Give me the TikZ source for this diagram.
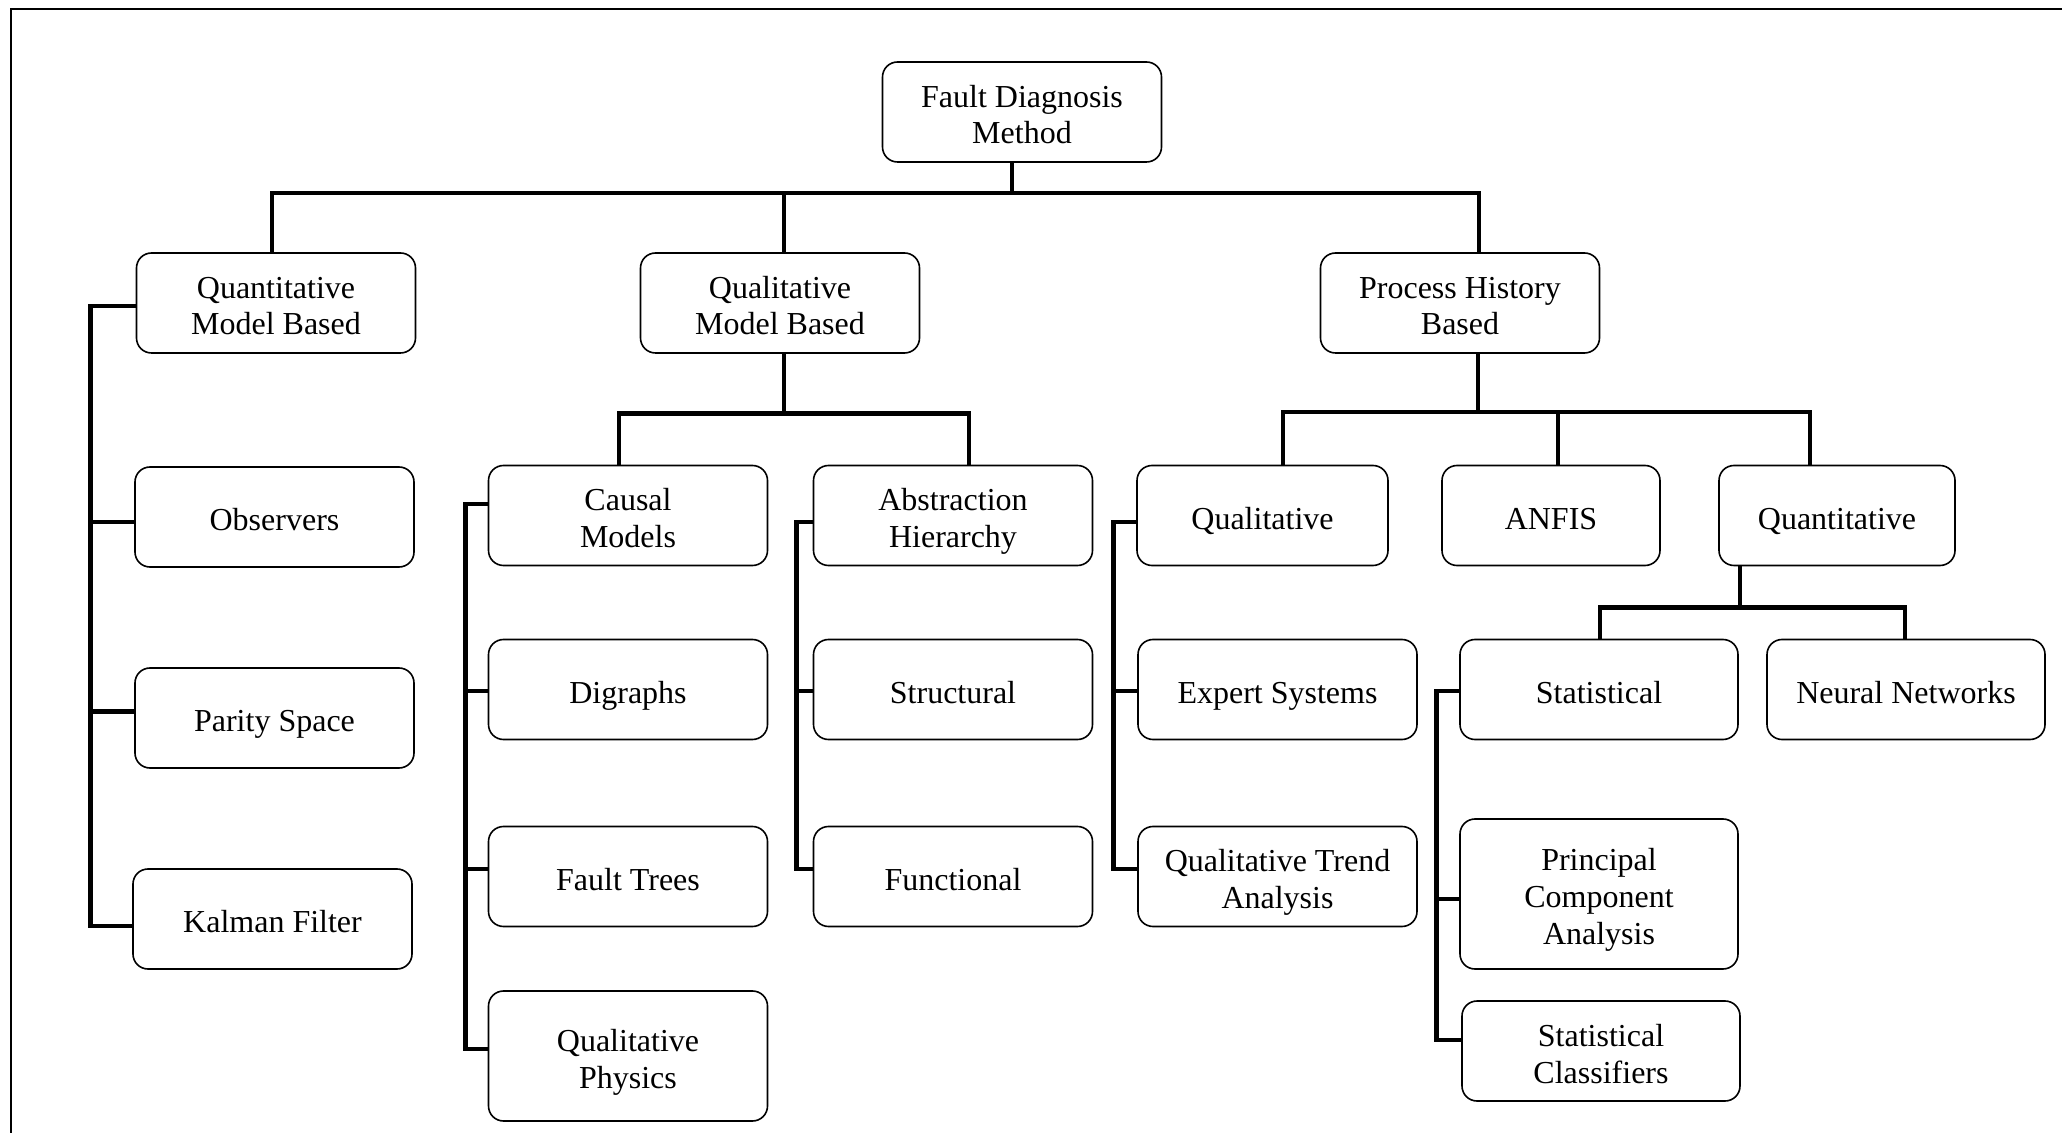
\documentclass[tikz,border=0pt]{standalone}
\usepackage{fontspec}
\setmainfont{Liberation Serif}
\usetikzlibrary{calc}
% line struts: \fl opens the first line of a label (taller above), \ls every further line
\newcommand\fl{\rule[-3.7pt]{0pt}{21pt}}
\newcommand\ls{\rule[-3.7pt]{0pt}{18.3pt}}
\begin{document}
\begin{tikzpicture}[x=0.5pt,y=-0.5pt,
  box/.style={draw, line width=0.8pt, rounded corners=7.5pt, align=center,
    inner sep=2pt, minimum width=139.5pt, minimum height=50pt,
    font=\fontsize{16}{18.4}\selectfont},
  link/.style={line width=2.3pt},
  bus/.style={line width=2.3pt, line cap=rect},
]
\useasboundingbox (0,0) rectangle (2062,1133);

% outer frame (top and left edges)
\draw[line width=1.3pt] (11,1140) -- (11,9) -- (2070,9);

% ---- nodes ----
\node[box] (root) at (1022,112) {\fl Fault Diagnosis\\\ls Method};

\node[box] (qmb)  at (276,303)  {\fl Quantitative\\\ls Model Based};
\node[box] (qlmb) at (780,303)  {\fl Qualitative\\\ls Model Based};
\node[box] (phb)  at (1460,303) {\fl Process History\\\ls Based};

\node[box] (obs) at (274.5,517) {\fl Observers};
\node[box] (par) at (274.5,718) {\fl Parity Space};
\node[box] (kal) at (272.5,919) {\fl Kalman Filter};

\node[box] (cau) at (628,515.5) {\fl Causal\\\ls Models};
\node[box] (abs) at (953,515.5) {\fl Abstraction\\\ls Hierarchy};
\node[box] (dig) at (628,689.5) {\fl Digraphs};
\node[box] (ftr) at (628,876.5) {\fl Fault Trees};
\node[box, minimum height=65pt] (qph) at (628,1056) {\fl Qualitative\\\ls Physics};
\node[box] (str) at (953,689.5) {\fl Structural};
\node[box] (fun) at (953,876.5) {\fl Functional};

\node[box, minimum width=125.5pt] (qal) at (1262.5,515.5) {\fl Qualitative};
\node[box, minimum width=109pt]   (anf) at (1551,515.5)   {\fl ANFIS};
\node[box, minimum width=118pt]   (qnt) at (1837,515.5)   {\fl Quantitative};
\node[box] (exp) at (1277.5,689.5) {\fl Expert Systems};
\node[box] (qta) at (1277.5,876.5) {\fl Qualitative Trend\\\ls Analysis};

\node[box, minimum width=139pt] (sta) at (1599,689.5) {\fl Statistical};
\node[box, minimum width=139pt] (nn)  at (1906,689.5) {\fl Neural Networks};
\node[box, minimum width=139pt, minimum height=75pt] (pca) at (1599,894)
  {\fl Principal\\\ls Component\\\ls Analysis};
\node[box, minimum width=139pt] (scl) at (1601,1051) {\fl Statistical\\\ls Classifiers};

% ---- tree connectors ----
% root to the three main families
\draw[link] ($(root.south)+(-10,0)$) -- ++(0,32);
\draw[bus]  ($(qmb.north)+(-4,-59)$) -- ($(phb.north)+(19,-59)$);
\draw[link] ($(qmb.north)+(-4,0)$)  -- ++(0,-59);
\draw[link] ($(qlmb.north)+(4,0)$)  -- ++(0,-59);
\draw[link] ($(phb.north)+(19,0)$)  -- ++(0,-59);

% qualitative model based
\draw[link] ($(qlmb.south)+(4,0)$) -- ++(0,61.5);
\draw[bus]  ($(cau.north)+(-9,-51)$) -- ($(abs.north)+(16,-51)$);
\draw[link] ($(cau.north)+(-9,0)$) -- ++(0,-51);
\draw[link] ($(abs.north)+(16,0)$) -- ++(0,-51);

% process history based
\draw[link] ($(phb.south)+(18,0)$) -- ++(0,60);
\draw[bus]  ($(qal.north)+(20.5,-52.5)$) -- ($(qnt.north)+(-27,-52.5)$);
\draw[link] ($(qal.north)+(20.5,0)$) -- ++(0,-52.5);
\draw[link] ($(anf.north)+(7,0)$)    -- ++(0,-52.5);
\draw[link] ($(qnt.north)+(-27,0)$)  -- ++(0,-52.5);

% quantitative (data driven)
\draw[link] ($(qnt.south)+(-97,0)$) -- ++(0,43);
\draw[bus]  ($(sta.north)+(1,-31)$) -- ($(nn.north)+(-1,-31)$);
\draw[link] ($(sta.north)+(1,0)$)  -- ++(0,-31);
\draw[link] ($(nn.north)+(-1,0)$)  -- ++(0,-31);

% ---- side spines ----
\draw[link] ($(qmb.west)+(0,3)$) -- ++(-45.5,0) |- ($(kal.west)+(0,7)$);
\draw[link] ($(obs.west)+(0,5)$)  -- ++(-44,0);
\draw[link] ($(par.west)+(0,-6.5)$) -- ++(-44,0);

\draw[link] ($(cau.west)+(0,-11.5)$) -- ++(-22,0) |- ($(qph.west)+(0,-7)$);
\draw[link] ($(dig.west)+(0,1.5)$)  -- ++(-22,0);
\draw[link] ($(ftr.west)+(0,-7.5)$) -- ++(-22,0);

\draw[link] ($(abs.west)+(0,6.5)$) -- ++(-16,0) |- ($(fun.west)+(0,-7.5)$);
\draw[link] ($(str.west)+(0,1.5)$) -- ++(-16,0);

\draw[link] ($(qal.west)+(0,6.5)$) -- ++(-23,0) |- ($(qta.west)+(0,-7.5)$);
\draw[link] ($(exp.west)+(0,1.5)$) -- ++(-24,0);

\draw[link] ($(sta.west)+(0,1.5)$) -- ++(-23,0) |- ($(scl.west)+(0,-11)$);
\draw[link] ($(pca.west)+(0,5)$)   -- ++(-23,0);
\end{tikzpicture}
\end{document}
